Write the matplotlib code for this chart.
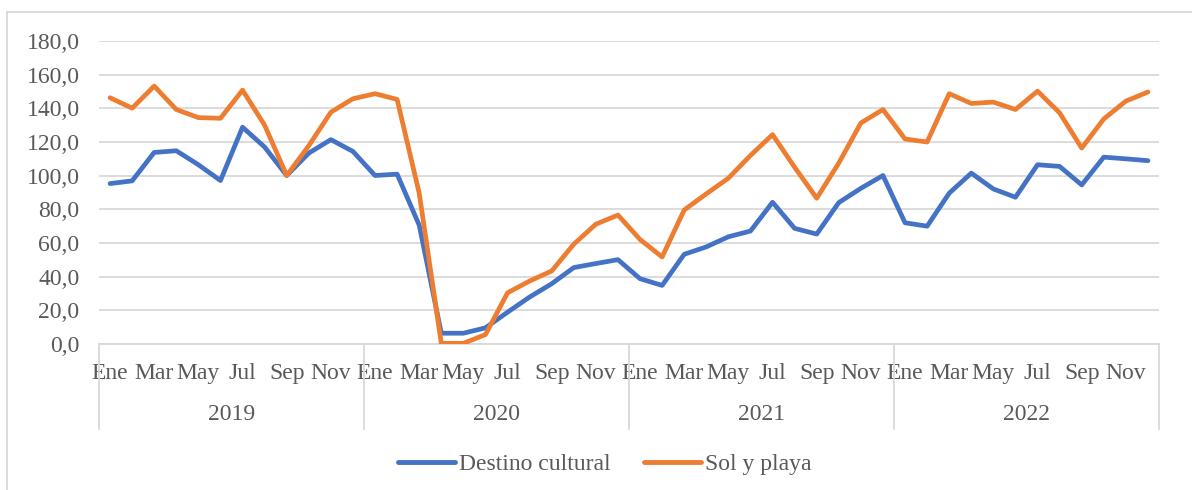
import numpy as np
import matplotlib
matplotlib.use('Agg')
from matplotlib import pyplot as plt
from matplotlib.lines import Line2D

# datos
years = ['2019', '2020', '2021', '2022']
meses = ['Ene', 'Feb', 'Mar', 'Abr', 'May', 'Jun', 'Jul', 'Ago', 'Sep', 'Oct', 'Nov', 'Dic']
cultural = [95.3, 96.9, 113.8, 114.8, 106.5, 97.1, 128.8, 117.0, 100.1, 113.4, 121.4, 114.4,
            100.1, 100.9, 70.6, 6.4, 6.4, 9.6, 18.9, 27.9, 35.8, 45.4, 47.8, 50.1,
            38.8, 34.8, 53.3, 57.7, 63.7, 67.1, 84.2, 68.7, 65.3, 84.0, 92.5, 100.1,
            72.0, 70.0, 89.6, 101.5, 92.1, 87.2, 106.5, 105.5, 94.5, 111.0, 110.0, 108.9]
playa = [146.3, 140.1, 153.2, 139.3, 134.5, 134.1, 150.8, 130.0, 100.1, 117.8, 137.7, 145.7,
         148.7, 145.3, 89.6, 0.4, 0.4, 5.6, 30.4, 37.4, 43.4, 59.3, 71.2, 76.6,
         62.1, 51.7, 79.6, 89.2, 98.5, 112.0, 124.4, 105.0, 86.6, 107.5, 131.3, 139.3,
         121.8, 120.0, 148.7, 142.9, 143.7, 139.3, 150.2, 137.3, 116.4, 133.7, 144.3, 149.7]
series = ['Destino cultural', 'Sol y playa']

c_blue = '#4472C4'
c_orange = '#ED7D31'
c_grid = '#D9D9D9'
c_txt = '#595959'
fs = 17

plt.rcParams['font.family'] = ['Liberation Serif', 'DejaVu Serif']

W, H = 1192, 490
fig = plt.figure(figsize=(W / 100, H / 100), dpi=100)

# area del grafico en pixeles
L, R, T, B = 99, 1159, 41, 344
ax = fig.add_axes([L / W, 1 - B / H, (R - L) / W, (B - T) / H])

n = len(cultural)
x = np.arange(n)
ax.plot(x, cultural, color=c_blue, lw=3.4, solid_capstyle='round', solid_joinstyle='round', zorder=3)
ax.plot(x, playa, color=c_orange, lw=3.4, solid_capstyle='round', solid_joinstyle='round', zorder=3)

ax.set_xlim(-0.5, n - 0.5)
ax.set_ylim(0, 180)
ax.set_yticks(np.arange(0, 181, 20))
ax.set_yticklabels([('%.1f' % v).replace('.', ',') for v in np.arange(0, 181, 20)],
                   fontsize=fs, color=c_txt)
ax.yaxis.grid(True, color=c_grid, lw=1.3)
ax.set_axisbelow(True)
ax.tick_params(axis='y', length=0, pad=14)
for s in ['left', 'right', 'top']:
    ax.spines[s].set_visible(False)
ax.spines['bottom'].set_color(c_grid)
ax.spines['bottom'].set_linewidth(1.3)

# etiquetas de meses (cada dos)
ax.set_xticks(x[::2])
ax.set_xticklabels([meses[i % 12] for i in x[::2]], fontsize=fs, color=c_txt)
ax.tick_params(axis='x', length=0, pad=14)

# nivel de anos y separadores
trans = ax.get_xaxis_transform()
sep_bottom = -(429 - B) / (B - T)
for k in range(len(years) + 1):
    ax.plot([k * 12 - 0.5] * 2, [0, sep_bottom], transform=trans, color=c_grid, lw=1.3,
            clip_on=False)
for k, yr in enumerate(years):
    ax.text(k * 12 + 5.5, -(415 - B) / (B - T), yr, transform=trans, ha='center', va='center',
            fontsize=fs, color=c_txt)

# leyenda
handles = [Line2D([], [], color=c_blue, lw=3.5, solid_capstyle='round'),
           Line2D([], [], color=c_orange, lw=3.5, solid_capstyle='round')]
fig.legend(handles, series, loc='center', bbox_to_anchor=(605 / W, 1 - 464 / H), ncol=2,
           frameon=False, fontsize=fs, labelcolor=c_txt, handlelength=2.4,
           handletextpad=0.2, columnspacing=1.4)

# borde del area del grafico
fig.add_artist(Line2D([7 / W, 7 / W], [0, 1 - 12 / H], color=c_grid, lw=1.3))
fig.add_artist(Line2D([7 / W, 1], [1 - 12 / H, 1 - 12 / H], color=c_grid, lw=1.3))

fig.savefig('out.png', dpi=100)
